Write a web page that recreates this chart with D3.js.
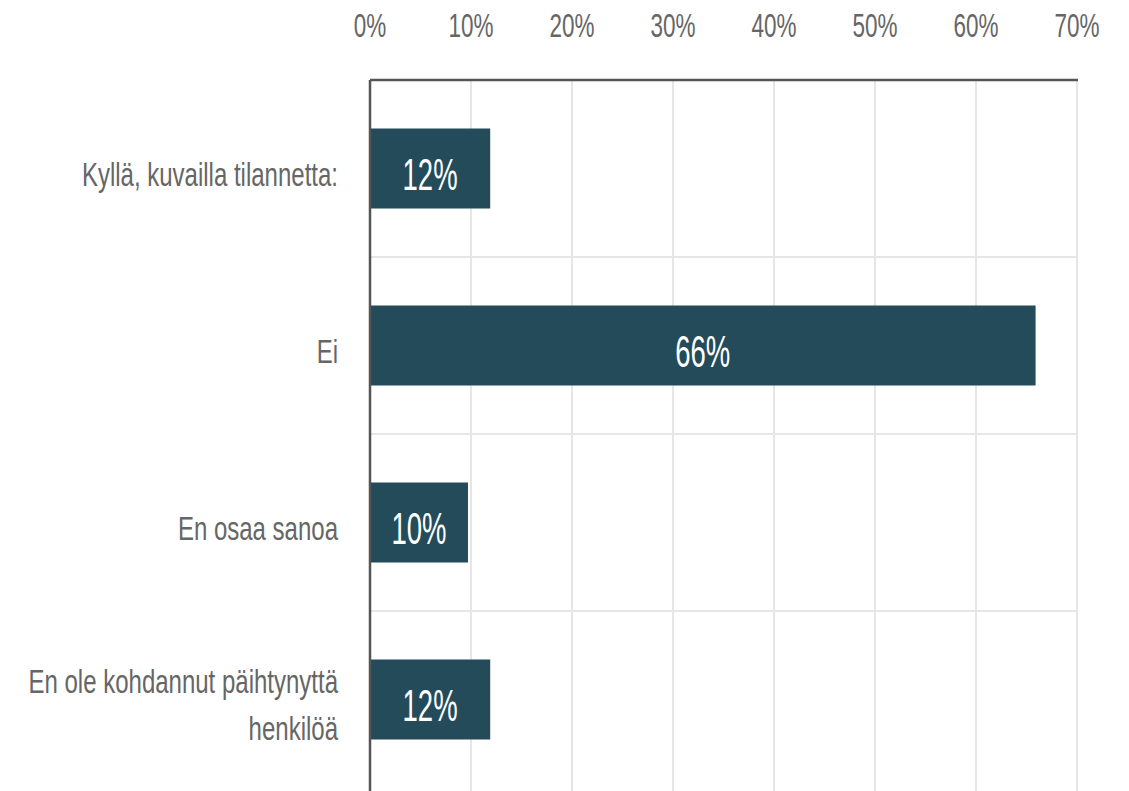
<!DOCTYPE html>
<html>
<head>
<meta charset="utf-8">
<script src="https://cdn.jsdelivr.net/npm/d3@7"></script>
<style>
  body { margin: 0; background: #fff; }
  text { font-family: "Liberation Sans", Arial, sans-serif; }
</style>
</head>
<body>
<svg width="1129" height="791"></svg>
<script>
const categories = ["Kyllä, kuvailla tilannetta:", "Ei", "En osaa sanoa", "En ole kohdannut päihtynyttä henkilöä"];
const values = [11.9, 65.9, 9.7, 11.9];
const valueLabels = ["12%", "66%", "10%", "12%"];
const ticks = [0, 10, 20, 30, 40, 50, 60, 70];

const svg = d3.select("svg");
const plotLeft = 370;
const plotRight = 1077;
const plotTop = 80;
const plotBottom = 788;

const x = d3.scaleLinear().domain([0, 70]).range([plotLeft, plotRight]);
const y = d3.scaleBand().domain(categories).range([plotTop, plotBottom]);
const barH = 80;

// the source font is tall and condensed: stretch text vertically
const stretch = (tx, ty, sy) => `translate(${tx},${ty}) scale(1,${sy})`;

// vertical gridlines
svg.append("g")
  .selectAll("line")
  .data(ticks.slice(1))
  .join("line")
  .attr("x1", d => x(d))
  .attr("x2", d => x(d))
  .attr("y1", plotTop)
  .attr("y2", 791)
  .attr("stroke", "#e6e6e6")
  .attr("stroke-width", 2);

// horizontal separators
svg.append("g")
  .selectAll("line")
  .data(categories.slice(1))
  .join("line")
  .attr("x1", plotLeft)
  .attr("x2", plotRight)
  .attr("y1", d => y(d))
  .attr("y2", d => y(d))
  .attr("stroke", "#e6e6e6")
  .attr("stroke-width", 2);

// top axis tick labels
svg.append("g")
  .selectAll("text")
  .data(ticks)
  .join("text")
  .attr("transform", d => stretch(x(d), 37, 1.5))
  .attr("text-anchor", "middle")
  .attr("fill", "#666")
  .attr("font-size", 22.5)
  .text(d => d + "%");

// bars
svg.append("g")
  .selectAll("rect")
  .data(values)
  .join("rect")
  .attr("x", x(0))
  .attr("y", (d, i) => y(categories[i]) + y.bandwidth() / 2 - barH / 2)
  .attr("width", d => x(d) - x(0))
  .attr("height", barH)
  .attr("fill", "#234b5a");

// bar labels
svg.append("g")
  .selectAll("text")
  .data(values)
  .join("text")
  .attr("transform", (d, i) => stretch((x(0) + x(d)) / 2, y(categories[i]) + y.bandwidth() / 2 + 21, 1.6))
  .attr("text-anchor", "middle")
  .attr("fill", "#fff")
  .attr("font-size", 27.5)
  .text((d, i) => valueLabels[i]);

// category labels
const catLines = [["Kyllä, kuvailla tilannetta:"], ["Ei"], ["En osaa sanoa"], ["En ole kohdannut päihtynyttä", "henkilöä"]];
const lineH = 47;
svg.append("g")
  .selectAll("g")
  .data(categories)
  .join("g")
  .each(function (d, i) {
    const lines = catLines[i];
    const cy = y(d) + y.bandwidth() / 2 + 17;
    lines.forEach((ln, j) => {
      d3.select(this).append("text")
        .attr("transform", stretch(338, cy + (j - (lines.length - 1) / 2) * lineH, 1.42))
        .attr("text-anchor", "end")
        .attr("fill", "#666")
        .attr("font-size", 24)
        .text(ln);
    });
  });

// axis lines
svg.append("line")
  .attr("x1", plotLeft).attr("x2", plotRight + 1)
  .attr("y1", plotTop).attr("y2", plotTop)
  .attr("stroke", "#555").attr("stroke-width", 2.5);
svg.append("line")
  .attr("x1", plotLeft).attr("x2", plotLeft)
  .attr("y1", plotTop).attr("y2", 791)
  .attr("stroke", "#555").attr("stroke-width", 2.5);
</script>
</body>
</html>
